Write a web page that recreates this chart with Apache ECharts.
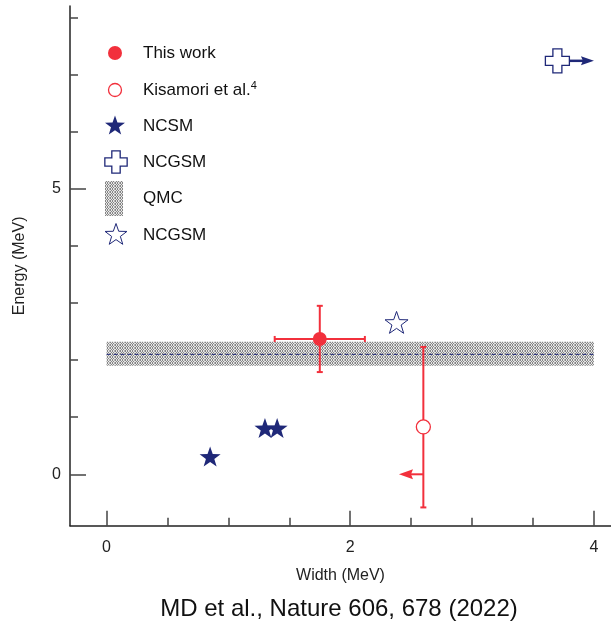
<!DOCTYPE html>
<html>
<head>
<meta charset="utf-8">
<script src="https://cdn.jsdelivr.net/npm/echarts@6/dist/echarts.min.js"></script>
<style>
  html, body { margin: 0; padding: 0; background: #fff; }
  #chart { width: 611px; height: 626px; }
</style>
</head>
<body>
<div id="chart"></div>
<script>
// Axis ranges and ticks
const widthRange = [-0.3, 4.14];
const energyRange = [-0.9, 8.2];
const widthMajorTicks = [0, 2, 4];
const widthMinorTicks = [0.5, 1, 1.5, 2.5, 3, 3.5];
const energyMajorTicks = [0, 5];
const energyMinorTicks = [1, 2, 3, 4, 6, 7, 8];

// Measurements: [width, energy]
const thisWork = [[1.75, 2.37]];
// [width, energy, widthLow, widthHigh, energyLow, energyHigh]
const thisWorkErr = [[1.75, 2.37, 1.38, 2.12, 1.79, 2.95]];
const kisamori = [[2.60, 0.83]];
const kisamoriErr = [[2.60, 0.83, null, null, -0.58, 2.23]];
// Limit arrows: [fromWidth, fromEnergy, toWidth, toEnergy]
const kisamoriLimit = [[2.60, 0.0, 2.40, 0.0]];

// Theory
const ncsm = [[0.85, 0.31], [1.30, 0.81], [1.40, 0.81]];
const ncgsmCross = [[3.70, 7.24]];
const ncgsmCrossLimit = [[3.70, 7.24, 4.0, 7.24]];
const ncgsmStar = [[2.38, 2.66]];
// QMC band: [widthFrom, widthTo, energyLow, energyHigh, energyCentral]
const qmcBand = [[0, 4, 1.90, 2.32, 2.10]];

const RED = '#f2303c';
const NAVY = '#1f2878';
const FONT = 'Liberation Sans, Arial, Helvetica, sans-serif';

// Five-pointed star and Greek cross outlines (unit size ~20 / 24)
const STAR_PTS = [[0,-10],[2.35,-3.24],[9.51,-3.09],[3.8,1.24],[5.88,8.09],[0,4],[-5.88,8.09],[-3.8,1.24],[-9.51,-3.09],[-2.35,-3.24]];
const CROSS_PTS = [[-4.5,-12],[4.5,-12],[4.5,-4.5],[12,-4.5],[12,4.5],[4.5,4.5],[4.5,12],[-4.5,12],[-4.5,4.5],[-12,4.5],[-12,-4.5],[-4.5,-4.5]];
function toPath(pts) {
  return 'path://' + pts.map((p, i) => (i ? 'L' : 'M') + p[0] + ',' + p[1]).join(' ') + ' Z';
}
const STAR = toPath(STAR_PTS);
const CROSS = toPath(CROSS_PTS);
function placed(pts, cx, cy, s) {
  return pts.map(p => [cx + p[0] * s, cy + p[1] * s]);
}

// Stippled fill for the QMC band
function stipple() {
  const c = document.createElement('canvas');
  c.width = 5; c.height = 3;
  const ctx = c.getContext('2d');
  ctx.fillStyle = '#e6e6e6';
  ctx.fillRect(0, 0, 5, 3);
  ctx.fillStyle = '#858585';
  [[0,0],[2,0],[1,1],[3,1],[0,2],[2,2]].forEach(p => ctx.fillRect(p[0], p[1], 1, 1));
  ctx.fillStyle = '#b0b0b0';
  ctx.fillRect(4, 0, 1, 1);
  ctx.fillRect(4, 2, 1, 1);
  return { image: c, repeat: 'repeat' };
}
const bandFill = stipple();

function errorBars(params, api) {
  const x = api.value(0), y = api.value(1);
  const children = [];
  const cap = 3;
  const style = { stroke: RED, lineWidth: 2 };
  const xl = api.value(2), xh = api.value(3);
  if (!isNaN(xl) && !isNaN(xh) && xl !== null && xh !== null) {
    const a = api.coord([xl, y]), b = api.coord([xh, y]);
    children.push({ type: 'line', shape: { x1: a[0], y1: a[1], x2: b[0], y2: b[1] }, style });
    children.push({ type: 'line', shape: { x1: a[0], y1: a[1] - cap, x2: a[0], y2: a[1] + cap }, style });
    children.push({ type: 'line', shape: { x1: b[0], y1: b[1] - cap, x2: b[0], y2: b[1] + cap }, style });
  }
  const yl = api.value(4), yh = api.value(5);
  if (!isNaN(yl) && !isNaN(yh)) {
    const a = api.coord([x, yl]), b = api.coord([x, yh]);
    children.push({ type: 'line', shape: { x1: a[0], y1: a[1], x2: b[0], y2: b[1] }, style });
    children.push({ type: 'line', shape: { x1: a[0] - cap, y1: a[1], x2: a[0] + cap, y2: a[1] }, style });
    children.push({ type: 'line', shape: { x1: b[0] - cap, y1: b[1], x2: b[0] + cap, y2: b[1] }, style });
  }
  return { type: 'group', children };
}

function limitArrow(color, lineWidth, headLen, headHalf) {
  return function (params, api) {
    const a = api.coord([api.value(0), api.value(1)]);
    const b = api.coord([api.value(2), api.value(3)]);
    const dir = Math.sign(b[0] - a[0]) || 1;
    const base = b[0] - dir * headLen;
    return {
      type: 'group',
      children: [
        { type: 'line', shape: { x1: a[0], y1: a[1], x2: base + dir * 2, y2: b[1] },
          style: { stroke: color, lineWidth } },
        { type: 'polygon',
          shape: { points: [[b[0], b[1]], [base - dir * 2, b[1] - headHalf], [base, b[1]], [base - dir * 2, b[1] + headHalf]] },
          style: { fill: color } }
      ]
    };
  };
}

function qmcRender(params, api) {
  const p0 = api.coord([api.value(0), api.value(3)]);
  const p1 = api.coord([api.value(1), api.value(2)]);
  const c0 = api.coord([api.value(0), api.value(4)]);
  const c1 = api.coord([api.value(1), api.value(4)]);
  return {
    type: 'group',
    children: [
      { type: 'rect', shape: { x: p0[0], y: p0[1], width: p1[0] - p0[0], height: p1[1] - p0[1] },
        style: { fill: bandFill } },
      { type: 'line', shape: { x1: c0[0], y1: c0[1], x2: c1[0], y2: c1[1] },
        style: { stroke: NAVY, lineWidth: 1, lineDash: [4, 3] } }
    ]
  };
}

// Legend drawn as graphics (two entries share the name "NCGSM")
const legendX = 115, textX = 143;
const legendRows = [53, 90, 126, 162, 198, 235];
const legendText = { fontSize: 17, fontFamily: FONT, fill: '#111', verticalAlign: 'middle' };
const legend = [
  { type: 'circle', shape: { cx: legendX, cy: legendRows[0], r: 7 }, style: { fill: RED } },
  { type: 'circle', shape: { cx: legendX, cy: legendRows[1], r: 6.5 }, style: { fill: '#fff', stroke: RED, lineWidth: 1.3 } },
  { type: 'polygon', shape: { points: placed(STAR_PTS, legendX, legendRows[2], 1.05) }, style: { fill: NAVY } },
  { type: 'polygon', shape: { points: placed(CROSS_PTS, legendX + 1, legendRows[3], 0.93) },
    style: { fill: '#fff', stroke: NAVY, lineWidth: 1.3 } },
  { type: 'rect', shape: { x: 105, y: legendRows[4] - 17, width: 18, height: 35 }, style: { fill: bandFill } },
  { type: 'polygon', shape: { points: placed(STAR_PTS, legendX + 1, legendRows[5], 1.15) },
    style: { fill: '#fff', stroke: NAVY, lineWidth: 1 } },
  { type: 'text', x: textX, y: legendRows[0], style: Object.assign({ text: 'This work' }, legendText) },
  { type: 'text', x: textX, y: legendRows[1], style: Object.assign({
      text: '{a|Kisamori et al.}{s|4}',
      rich: { a: { fontSize: 17, fontFamily: FONT, fill: '#111' },
              s: { fontSize: 11, fontFamily: FONT, fill: '#111', verticalAlign: 'top', padding: [0, 0, 8, 0] } } }, legendText) },
  { type: 'text', x: textX, y: legendRows[2], style: Object.assign({ text: 'NCSM' }, legendText) },
  { type: 'text', x: textX, y: legendRows[3], style: Object.assign({ text: 'NCGSM' }, legendText) },
  { type: 'text', x: textX, y: legendRows[4], style: Object.assign({ text: 'QMC' }, legendText) },
  { type: 'text', x: textX, y: legendRows[5], style: Object.assign({ text: 'NCGSM' }, legendText) },
  { type: 'text', x: 339, y: 609, style: { text: 'MD et al., Nature 606, 678 (2022)', fontSize: 24, fontFamily: FONT,
      fill: '#111', align: 'center', verticalAlign: 'middle' } }
];

const chart = echarts.init(document.getElementById('chart'), null, { renderer: 'canvas' });
chart.setOption({
  animation: false,
  backgroundColor: '#fff',
  grid: { left: 70, right: 0, top: 6, bottom: 100.3, containLabel: false },
  xAxis: [
    {
      type: 'value', min: widthRange[0], max: widthRange[1],
      axisLine: { show: true, onZero: false, lineStyle: { color: '#222', width: 1.5 } },
      splitLine: { show: false },
      axisTick: { inside: true, length: 8, customValues: widthMinorTicks, lineStyle: { color: '#444', width: 1.5 } },
      axisLabel: { show: false }
    },
    {
      type: 'value', min: widthRange[0], max: widthRange[1], position: 'bottom',
      axisLine: { show: false, onZero: false },
      splitLine: { show: false },
      axisTick: { inside: true, length: 15, customValues: widthMajorTicks, lineStyle: { color: '#444', width: 1.5 } },
      axisLabel: { customValues: widthMajorTicks, margin: 14, fontSize: 16, fontFamily: FONT, color: '#222' },
      name: 'Width (MeV)', nameLocation: 'middle', nameGap: 42,
      nameTextStyle: { fontSize: 16, fontFamily: FONT, color: '#222' }
    }
  ],
  yAxis: [
    {
      type: 'value', min: energyRange[0], max: energyRange[1],
      axisLine: { show: true, onZero: false, lineStyle: { color: '#222', width: 1.5 } },
      splitLine: { show: false },
      axisTick: { inside: true, length: 8, customValues: energyMinorTicks, lineStyle: { color: '#444', width: 1.5 } },
      axisLabel: { show: false }
    },
    {
      type: 'value', min: energyRange[0], max: energyRange[1], position: 'left',
      axisLine: { show: false, onZero: false },
      splitLine: { show: false },
      axisTick: { inside: true, length: 16, customValues: energyMajorTicks, lineStyle: { color: '#444', width: 1.5 } },
      axisLabel: { customValues: energyMajorTicks, margin: 9, fontSize: 16, fontFamily: FONT, color: '#222' },
      name: 'Energy (MeV)', nameLocation: 'middle', nameGap: 42,
      nameTextStyle: { fontSize: 16, fontFamily: FONT, color: '#222' }
    }
  ],
  graphic: legend,
  series: [
    { name: 'QMC', type: 'custom', renderItem: qmcRender, data: qmcBand, z: 1, silent: true,
      encode: { x: [0, 1], y: [2, 3] } },
    { name: 'This work error', type: 'custom', renderItem: errorBars, data: thisWorkErr, z: 3,
      encode: { x: [0, 2, 3], y: [1, 4, 5] } },
    { name: 'Kisamori error', type: 'custom', renderItem: errorBars, data: kisamoriErr, z: 3,
      encode: { x: 0, y: [1, 4, 5] } },
    { name: 'Kisamori limit', type: 'custom', renderItem: limitArrow(RED, 2, 12, 5), data: kisamoriLimit, z: 3,
      encode: { x: [0, 2], y: [1, 3] } },
    { name: 'NCGSM limit', type: 'custom', renderItem: limitArrow(NAVY, 2.5, 11, 4.5), data: ncgsmCrossLimit, z: 3,
      encode: { x: [0, 2], y: [1, 3] } },
    { name: 'This work', type: 'scatter', data: thisWork, symbol: 'circle', symbolSize: 14,
      itemStyle: { color: RED, opacity: 1 }, z: 5 },
    { name: 'Kisamori et al.', type: 'scatter', data: kisamori, symbol: 'circle', symbolSize: 14,
      itemStyle: { color: '#fff', borderColor: RED, borderWidth: 1.3, opacity: 1 }, z: 5 },
    { name: 'NCSM', type: 'scatter', data: ncsm, symbol: STAR, symbolSize: 21, symbolKeepAspect: true,
      itemStyle: { color: NAVY, opacity: 1 }, z: 5 },
    { name: 'NCGSM', type: 'scatter', data: ncgsmCross, symbol: CROSS, symbolSize: 24, symbolKeepAspect: true,
      itemStyle: { color: '#fff', borderColor: NAVY, borderWidth: 1.3, opacity: 1 }, z: 5 },
    { name: 'NCGSM star', type: 'scatter', data: ncgsmStar, symbol: STAR, symbolSize: 23, symbolKeepAspect: true,
      itemStyle: { color: '#fff', borderColor: NAVY, borderWidth: 1, opacity: 1 }, z: 5 }
  ]
});
</script>
</body>
</html>
